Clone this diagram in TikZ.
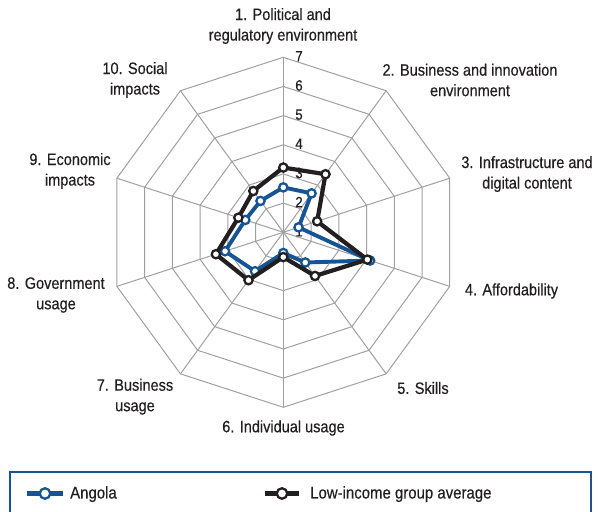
\documentclass[tikz,border=0pt]{standalone}
\usepackage{fontspec}
\setmainfont[FakeStretch=0.88,FakeBold=0.4]{Liberation Sans}
\definecolor{angola}{RGB}{22,84,150}
\definecolor{lowinc}{RGB}{35,31,32}
\definecolor{gridc}{RGB}{160,160,160}
\definecolor{txt}{RGB}{35,31,32}
\begin{document}
\begin{tikzpicture}[x=1bp,y=1bp,
  gridline/.style={draw=gridc, line width=1bp},
  axislabel/.style={font=\fontsize{16.5bp}{20.5bp}\selectfont, text=txt, align=center, inner sep=0pt},
  numlabel/.style={font=\fontsize{15bp}{18bp}\selectfont, text=txt, inner sep=0pt},
  legtext/.style={font=\fontsize{17bp}{20.5bp}\selectfont, text=txt, inner sep=0pt, anchor=base west},
  seriesA/.style={draw=angola, line width=3.9bp, line join=round},
  seriesB/.style={draw=lowinc, line width=4.2bp, line join=round},
  markA/.style={circle, draw=angola, fill=white, line width=2.3bp, minimum size=8.3bp, inner sep=0pt},
  markB/.style={circle, draw=lowinc, fill=white, line width=2.3bp, minimum size=8.3bp, inner sep=0pt}]
\useasboundingbox (0,0) rectangle (598,512);
\begin{scope}[shift={(283.3,279.7)}]
  \coordinate (C) at (0,0);
  % grid rings
  \foreach \k in {1,...,6} {
    \draw[gridline] (90:{\k*29.1667}) \foreach \j in {1,...,9} { -- ({90-36*\j}:{\k*29.1667}) } -- cycle;
  }
  % spokes
  \foreach \j in {1,...,10} {
    \coordinate (v\j) at ({90-36*(\j-1)}:175);
    \draw[gridline] (C) -- (v\j);
  }
  % scale numbers
  \foreach \k in {1,...,7} {
    \node[numlabel] (n\k) at (15.7,{(\k-1)*29.1667+1}) {\k};
  }
  % Angola
  \foreach \v [count=\i] in {2.54,2.65,1.55,4.13,2.28,1.71,2.65,3.10,2.37,2.33}
    \coordinate (a\i) at ({90-36*(\i-1)}:{(\v-1)*29.1667});
  \draw[seriesA] (a1) -- (a2) -- (a3) -- (a4) -- (a5) -- (a6) -- (a7) -- (a8) -- (a9) -- (a10) -- cycle;
  \foreach \i in {1,...,10} \node[markA] (ma\i) at (a\i) {};
  % Low-income group average
  \foreach \v [count=\i] in {3.22,3.46,2.22,4.03,2.85,1.85,3.03,3.43,2.62,2.75}
    \coordinate (b\i) at ({90-36*(\i-1)}:{(\v-1)*29.1667});
  \draw[seriesB] (b1) -- (b2) -- (b3) -- (b4) -- (b5) -- (b6) -- (b7) -- (b8) -- (b9) -- (b10) -- cycle;
  \foreach \i in {1,...,10} \node[markB] (mb\i) at (b\i) {};
\end{scope}
% axis labels
\node[axislabel] (L1) at (283,486) {1. Political and\\regulatory environment};
\node[axislabel] (L2) at (470,432) {2. Business and innovation\\environment};
\node[axislabel] (L3) at (527,338) {3. Infrastructure and\\digital content};
\node[axislabel] (L4) at (511.5,221) {4. Affordability};
\node[axislabel] (L5) at (423,124) {5. Skills};
\node[axislabel] (L6) at (283.5,84) {6. Individual usage};
\node[axislabel] (L7) at (135,115.3) {7. Business\\usage};
\node[axislabel] (L8) at (56,217) {8. Government\\usage};
\node[axislabel] (L9) at (70,341) {9. Economic\\impacts};
\node[axislabel] (L10) at (135,432) {10. Social\\impacts};
% legend
\draw[draw=angola, line width=1.6bp] (10,-3) -- (10,40) -- (591,40) -- (591,-3);
\coordinate (la1) at (27,18.5); \coordinate (la2) at (63,18.5);
\draw[draw=angola, line width=4.2bp] (la1) -- (la2);
\node[markA, minimum size=10.5bp] (lma) at (45,18.5) {};
\node[legtext] (lta) at (70,13.5) {Angola};
\coordinate (lb1) at (265,18.5); \coordinate (lb2) at (299,18.5);
\draw[draw=lowinc, line width=4.2bp] (lb1) -- (lb2);
\node[markB, minimum size=10.5bp] (lmb) at (282,18.5) {};
\node[legtext] (ltb) at (310,13.5) {Low-income group average};
\end{tikzpicture}
\end{document}
